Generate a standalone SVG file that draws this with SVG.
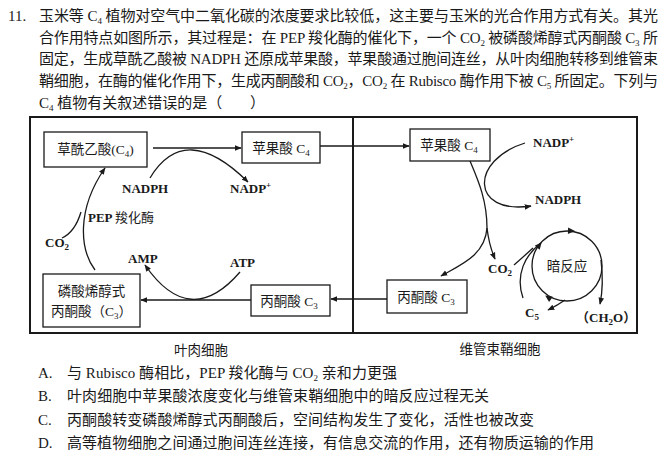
<svg xmlns="http://www.w3.org/2000/svg" width="665" height="458" viewBox="0 0 665 458">
<style>
text{font-family:"Liberation Serif","Noto Sans CJK SC",serif;fill:#1a1a1a}
.q{font-size:15px}
.lb{font-size:13.5px}
.nd{font-size:13px;font-weight:bold}
.sub{font-size:9px}
.box{fill:#fff;stroke:#1a1a1a;stroke-width:1.3}
.cell{fill:none;stroke:#1a1a1a;stroke-width:2}
.ln{fill:none;stroke:#1a1a1a;stroke-width:1.3}
.ar{marker-end:url(#ah)}
</style>
<defs>
<marker id="ah" viewBox="0 0 10 10" refX="9" refY="5" markerWidth="7" markerHeight="7" markerUnits="userSpaceOnUse" orient="auto">
<path d="M0,1 L10,5 L0,9 Z" fill="#1a1a1a"/>
</marker>
<path id="head" d="M-6,-3.2 L1,0 L-6,3.2 Z" fill="#1a1a1a"/>
</defs>
<rect width="665" height="458" fill="#fff"/>

<g id="question">
<text class="q" x="8" y="21">11.</text>
<text class="q" x="39" y="21" textLength="619" lengthAdjust="spacing">玉米等 C<tspan class="sub" dy="3">4</tspan><tspan dy="-3"> 植物对空气中二氧化碳的浓度要求比较低，这主要与玉米的光合作用方式有关。其光</tspan></text>
<text class="q" x="39" y="43" textLength="619" lengthAdjust="spacing">合作用特点如图所示，其过程是：在 PEP 羧化酶的催化下，一个 CO<tspan class="sub" dy="3">2</tspan><tspan dy="-3"> 被磷酸烯醇式丙酮酸 C</tspan><tspan class="sub" dy="3">3</tspan><tspan dy="-3"> 所</tspan></text>
<text class="q" x="39" y="64" textLength="619" lengthAdjust="spacing">固定，生成草酰乙酸被 NADPH 还原成苹果酸，苹果酸通过胞间连丝，从叶肉细胞转移到维管束</text>
<text class="q" x="39" y="86" textLength="619" lengthAdjust="spacing">鞘细胞，在酶的催化作用下，生成丙酮酸和 CO<tspan class="sub" dy="3">2</tspan><tspan dy="-3">，CO</tspan><tspan class="sub" dy="3">2</tspan><tspan dy="-3"> 在 Rubisco 酶作用下被 C</tspan><tspan class="sub" dy="3">5</tspan><tspan dy="-3"> 所固定。下列与</tspan></text>
<text class="q" x="39" y="108">C<tspan class="sub" dy="3">4</tspan><tspan dy="-3"> 植物有关叙述错误的是（</tspan></text>
<text class="q" x="250" y="108">）</text>
</g>

<g id="mesophyll-cell">
<rect class="cell" x="30" y="117" width="323" height="216"/>
<text class="lb" x="201" y="355" text-anchor="middle">叶肉细胞</text>
</g>
<g id="bundle-sheath-cell">
<rect class="cell" x="353" y="117" width="284" height="216"/>
<text class="lb" x="500" y="354" text-anchor="middle">维管束鞘细胞</text>
</g>

<g id="oxaloacetate">
<rect class="box" x="44" y="132" width="103" height="35"/>
<text class="lb" x="95.5" y="154" text-anchor="middle">草酰乙酸(C<tspan class="sub" dy="3">4</tspan><tspan dy="-3">)</tspan></text>
</g>
<g id="malate-left">
<rect class="box" x="242" y="132" width="78" height="31"/>
<text class="lb" x="281" y="152.5" text-anchor="middle">苹果酸 C<tspan class="sub" dy="3">4</tspan></text>
</g>
<g id="pep">
<rect class="box" x="43" y="274" width="97" height="53"/>
<text class="lb" x="91.5" y="296" text-anchor="middle">磷酸烯醇式</text>
<text class="lb" x="91.5" y="316" text-anchor="middle">丙酮酸（C<tspan class="sub" dy="3">3</tspan><tspan dy="-3">）</tspan></text>
</g>
<g id="pyruvate-left">
<rect class="box" x="251" y="285" width="79" height="31"/>
<text class="lb" x="289" y="305.5" text-anchor="middle">丙酮酸 C<tspan class="sub" dy="3">3</tspan></text>
</g>
<g id="malate-right">
<rect class="box" x="410" y="129" width="80" height="32"/>
<text class="lb" x="449" y="150" text-anchor="middle">苹果酸 C<tspan class="sub" dy="3">4</tspan></text>
</g>
<g id="pyruvate-right">
<rect class="box" x="387" y="280" width="80" height="33"/>
<text class="lb" x="426" y="301.5" text-anchor="middle">丙酮酸 C<tspan class="sub" dy="3">3</tspan></text>
</g>
<g id="dark-reaction">
<circle class="ln" cx="567" cy="266" r="35"/>
<use href="#head" transform="translate(574,231) rotate(2)"/>
<use href="#head" transform="translate(541,243) rotate(-51)"/>
<use href="#head" transform="translate(546,296) rotate(-145)"/>
<text class="lb" x="567" y="271" text-anchor="middle">暗反应</text>
</g>

<g id="labels">
<text class="nd" x="122" y="193">NADPH</text>
<text class="nd" x="230" y="193">NADP<tspan class="sub" dy="-5">+</tspan></text>
<text class="nd" x="88" y="222">PEP <tspan font-weight="normal">羧化酶</tspan></text>
<text class="nd" x="45" y="247">CO<tspan class="sub" dy="3">2</tspan></text>
<text class="nd" x="128" y="263">AMP</text>
<text class="nd" x="230" y="267">ATP</text>
<text class="nd" x="533" y="147">NADP<tspan class="sub" dy="-5">+</tspan></text>
<text class="nd" x="535" y="204">NADPH</text>
<text class="nd" x="488" y="273">CO<tspan class="sub" dy="3">2</tspan></text>
<text class="nd" x="525" y="317">C<tspan class="sub" dy="3">5</tspan></text>
<text class="nd" x="576" y="322">（CH<tspan class="sub" dy="3">2</tspan><tspan dy="-3">O）</tspan></text>
</g>

<g id="connectors">
<path class="ln ar" d="M153,148 H241"/>
<path class="ln ar" d="M150,178 Q185,120 248,182"/>
<path class="ln ar" d="M320,146 H409"/>
<path class="ln ar" d="M95,270 C80,250 76,210 105,168"/>
<path class="ln" d="M62,238 Q75,232 81,212"/>
<path class="ln ar" d="M251,300 H141"/>
<path class="ln ar" d="M240,272 Q190,330 145,265"/>
<path class="ln ar" d="M387,299 H331"/>
<path class="ln" d="M470,161 C478,180 487,200 487,228"/>
<path class="ln ar" d="M487,228 C485,255 462,264 441,276"/>
<path class="ln ar" d="M487,228 Q489,245 495,259"/>
<path class="ln ar" d="M525,143 C470,160 470,215 531,206"/>
<path class="ln ar" d="M601,260 Q604,285 600,304"/>
<path class="ln ar" d="M565,300 Q558,305 548,310"/>
<path class="ln" d="M523,298 C515,275 525,255 541,243"/>
<path class="ln" d="M514,265 Q522,258 533,248"/>
</g>

<g id="options">
<text class="q" x="38" y="378">A.</text>
<text class="q" x="67" y="378" textLength="330" lengthAdjust="spacing">与 Rubisco 酶相比，PEP 羧化酶与 CO<tspan class="sub" dy="3">2</tspan><tspan dy="-3"> 亲和力更强</tspan></text>
<text class="q" x="38" y="401">B.</text>
<text class="q" x="67" y="401" textLength="422" lengthAdjust="spacing">叶肉细胞中苹果酸浓度变化与维管束鞘细胞中的暗反应过程无关</text>
<text class="q" x="38" y="425">C.</text>
<text class="q" x="67" y="425" textLength="467" lengthAdjust="spacing">丙酮酸转变磷酸烯醇式丙酮酸后，空间结构发生了变化，活性也被改变</text>
<text class="q" x="38" y="448">D.</text>
<text class="q" x="67" y="448" textLength="527" lengthAdjust="spacing">高等植物细胞之间通过胞间连丝连接，有信息交流的作用，还有物质运输的作用</text>
</g>
</svg>
